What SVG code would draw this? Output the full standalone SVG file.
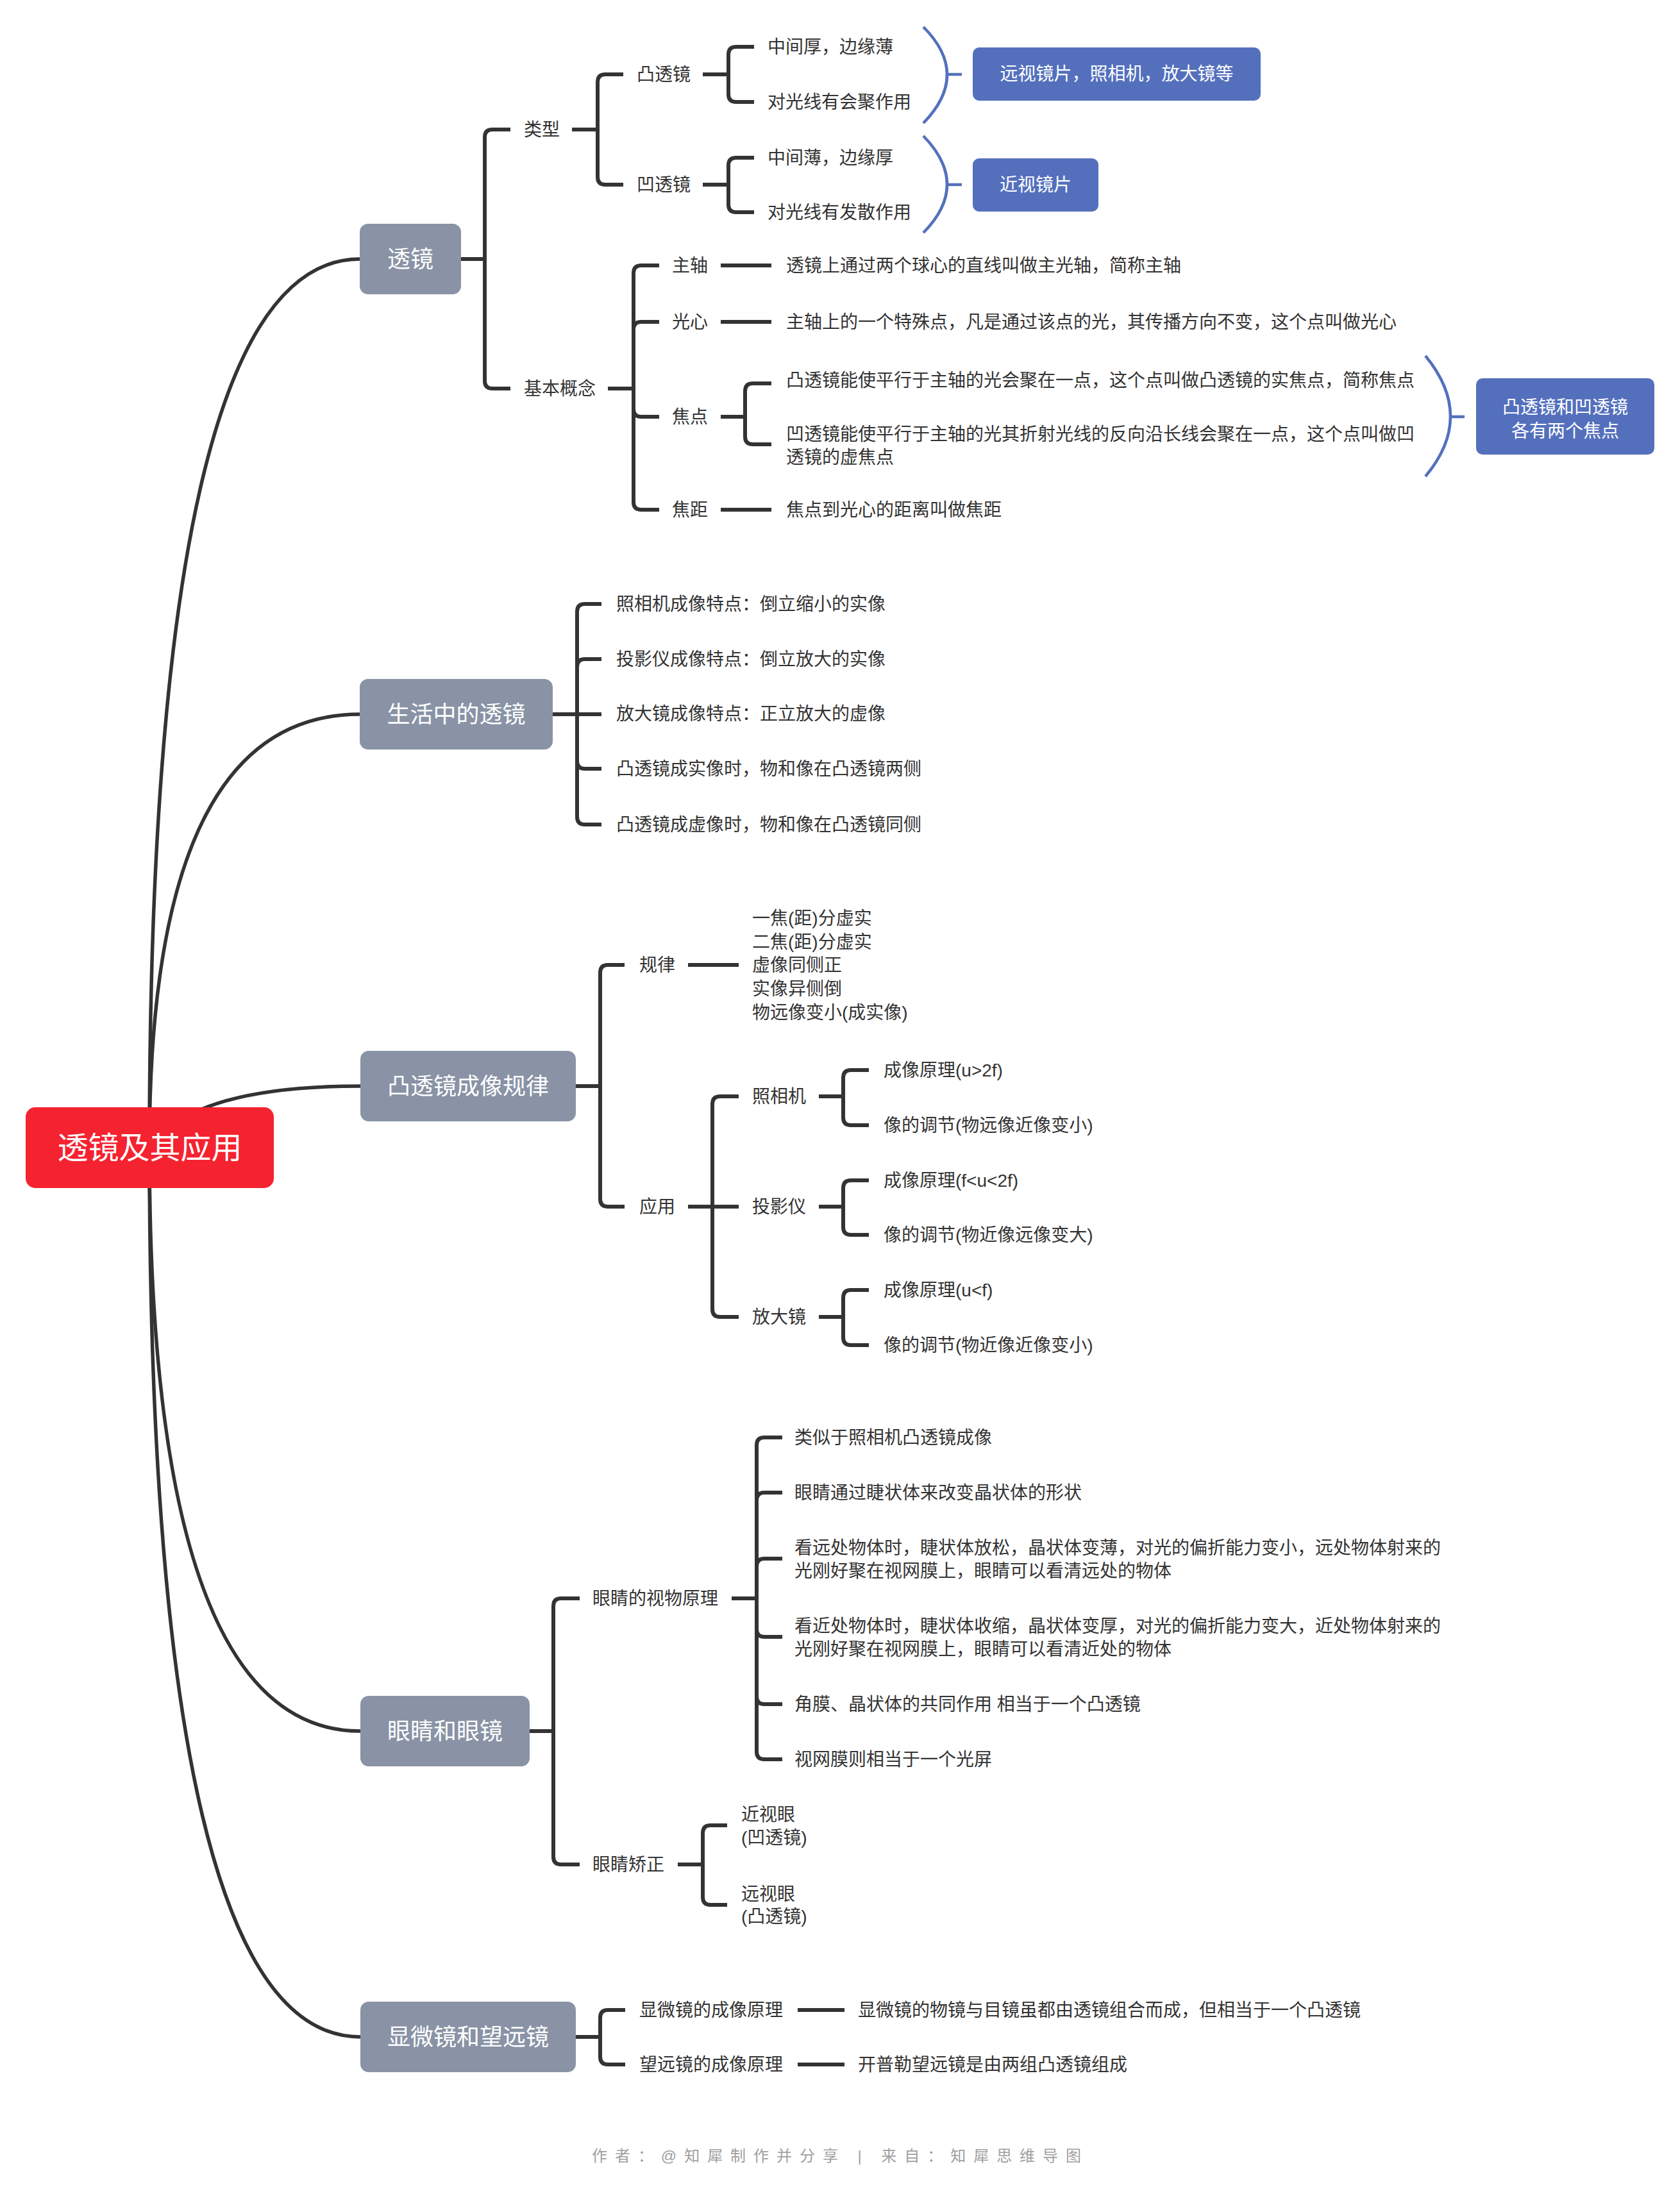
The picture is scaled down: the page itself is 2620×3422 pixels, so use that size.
<svg xmlns="http://www.w3.org/2000/svg" width="2620" height="3422" viewBox="0 0 2620 3422">
<style>
text{font-family:"Liberation Sans","Noto Sans CJK SC",sans-serif;dominant-baseline:central}
.c{fill:none;stroke:#333;stroke-width:6;stroke-linejoin:round}
.cv{fill:none;stroke:#333;stroke-width:5.5}
.bl{fill:none;stroke:#5470bd;stroke-width:4.5}
.t{font-size:28px;fill:#333}
.n1{fill:#8993a5}
.n1t{font-size:36px;fill:#fff;text-anchor:middle}
.bb{fill:#5470bd}
.bt{font-size:28px;fill:#fff;text-anchor:middle}
</style>
<rect width="2620" height="3422" fill="#fff"/>
<g id="connectors">
<path class="cv" d="M233 1790 Q233 404 561 404"/>
<path class="cv" d="M233 1790 Q233 1114 561 1114"/>
<path class="cv" d="M233 1790 Q300 1694 562 1694"/>
<path class="cv" d="M233 1790 Q233 2700 562 2700"/>
<path class="cv" d="M233 1790 Q233 3177 562 3177"/>
<path class="c" d="M719 404 H756 V214 Q756 202 768 202 H796"/>
<path class="c" d="M719 404 H756 V594 Q756 606 768 606 H796"/>
<path class="c" d="M892 202 H932 V128 Q932 116 944 116 H972"/>
<path class="c" d="M892 202 H932 V276 Q932 288 944 288 H972"/>
<path class="c" d="M1096 116 H1136 V85 Q1136 73 1148 73 H1176"/>
<path class="c" d="M1096 116 H1136 V147 Q1136 159 1148 159 H1176"/>
<path class="c" d="M1096 288 H1136 V258 Q1136 246 1148 246 H1176"/>
<path class="c" d="M1096 288 H1136 V319 Q1136 331 1148 331 H1176"/>
<path class="bl" d="M1440 42 Q1514 116 1440 192 M1477 116 H1500"/>
<path class="bl" d="M1440 212 Q1514 288 1440 363 M1477 288 H1500"/>
<path class="c" d="M948 606 H988 V426 Q988 414 1000 414 H1028"/>
<path class="c" d="M948 606 H988 V514 Q988 502 1000 502 H1028"/>
<path class="c" d="M948 606 H988 V638 Q988 650 1000 650 H1028"/>
<path class="c" d="M948 606 H988 V783 Q988 795 1000 795 H1028"/>
<path class="c" d="M1124 414 H1203 M1124 502 H1203 M1124 795 H1203"/>
<path class="c" d="M1124 650 H1162 V610 Q1162 598 1174 598 H1203"/>
<path class="c" d="M1124 650 H1162 V681 Q1162 693 1174 693 H1203"/>
<path class="bl" d="M2223 555 Q2301 650 2223 743 M2262 650 H2284"/>
<path class="c" d="M862 1114 H900 V954 Q900 942 912 942 H938"/>
<path class="c" d="M862 1114 H900 V1040 Q900 1028 912 1028 H938"/>
<path class="c" d="M862 1114 H938"/>
<path class="c" d="M862 1114 H900 V1187 Q900 1199 912 1199 H938"/>
<path class="c" d="M862 1114 H900 V1274 Q900 1286 912 1286 H938"/>
<path class="c" d="M898 1694 H936 V1517 Q936 1505 948 1505 H974"/>
<path class="c" d="M898 1694 H936 V1870 Q936 1882 948 1882 H974"/>
<path class="c" d="M1073 1505 H1152"/>
<path class="c" d="M1073 1882 H1111 V1722 Q1111 1710 1123 1710 H1152"/>
<path class="c" d="M1073 1882 H1152"/>
<path class="c" d="M1073 1882 H1111 V2042 Q1111 2054 1123 2054 H1152"/>
<path class="c" d="M1277 1710 H1315 V1681 Q1315 1669 1327 1669 H1355"/>
<path class="c" d="M1277 1710 H1315 V1743 Q1315 1755 1327 1755 H1355"/>
<path class="c" d="M1277 1882 H1315 V1853 Q1315 1841 1327 1841 H1355"/>
<path class="c" d="M1277 1882 H1315 V1914 Q1315 1926 1327 1926 H1355"/>
<path class="c" d="M1277 2054 H1315 V2024 Q1315 2012 1327 2012 H1355"/>
<path class="c" d="M1277 2054 H1315 V2086 Q1315 2098 1327 2098 H1355"/>
<path class="c" d="M826 2700 H863 V2505 Q863 2493 875 2493 H904"/>
<path class="c" d="M826 2700 H863 V2896 Q863 2908 875 2908 H904"/>
<path class="c" d="M1141 2493 H1180 V2254 Q1180 2242 1192 2242 H1220"/>
<path class="c" d="M1141 2493 H1180 V2340 Q1180 2328 1192 2328 H1220"/>
<path class="c" d="M1141 2493 H1180 V2443 Q1180 2431 1192 2431 H1220"/>
<path class="c" d="M1141 2493 H1180 V2541 Q1180 2553 1192 2553 H1220"/>
<path class="c" d="M1141 2493 H1180 V2646 Q1180 2658 1192 2658 H1220"/>
<path class="c" d="M1141 2493 H1180 V2732 Q1180 2744 1192 2744 H1220"/>
<path class="c" d="M1057 2908 H1096 V2859 Q1096 2847 1108 2847 H1134"/>
<path class="c" d="M1057 2908 H1096 V2959 Q1096 2971 1108 2971 H1134"/>
<path class="c" d="M898 3177 H936 V3147 Q936 3135 948 3135 H975"/>
<path class="c" d="M898 3177 H936 V3208 Q936 3220 948 3220 H975"/>
<path class="c" d="M1244 3135 H1317 M1244 3220 H1317"/>
</g>
<g id="root"><rect x="40" y="1727" width="387" height="126" rx="15" fill="#f52230"/><text x="233.5" y="1790" font-size="48" fill="#fff" text-anchor="middle">透镜及其应用</text></g>
<g id="n-toujing"><rect class="n1" x="561" y="349" width="158" height="110" rx="13"/><text class="n1t" x="640" y="404">透镜</text></g>
<g id="n-leixing"><text class="t" x="817" y="202">类型</text></g>
<g id="n-tu"><text class="t" x="993" y="116">凸透镜</text></g>
<g id="n-tu1"><text class="t" x="1197" y="73">中间厚，边缘薄</text></g>
<g id="n-tu2"><text class="t" x="1197" y="159">对光线有会聚作用</text></g>
<g id="n-ao"><text class="t" x="993" y="288">凹透镜</text></g>
<g id="n-ao1"><text class="t" x="1197" y="246">中间薄，边缘厚</text></g>
<g id="n-ao2"><text class="t" x="1197" y="331">对光线有发散作用</text></g>
<g id="s-tu"><rect class="bb" x="1517" y="74" width="449" height="83" rx="10"/><text class="bt" x="1741.5" y="115.5">远视镜片，照相机，放大镜等</text></g>
<g id="s-ao"><rect class="bb" x="1517" y="247" width="196" height="83" rx="10"/><text class="bt" x="1615" y="288.5">近视镜片</text></g>
<g id="n-jiben"><text class="t" x="817" y="606">基本概念</text></g>
<g id="n-zhuzhou"><text class="t" x="1048" y="414">主轴</text><text class="t" x="1226" y="414">透镜上通过两个球心的直线叫做主光轴，简称主轴</text></g>
<g id="n-guangxin"><text class="t" x="1048" y="502">光心</text><text class="t" x="1226" y="502">主轴上的一个特殊点，凡是通过该点的光，其传播方向不变，这个点叫做光心</text></g>
<g id="n-jiaodian"><text class="t" x="1048" y="650">焦点</text></g>
<g id="n-jd1"><text class="t" x="1226" y="593">凸透镜能使平行于主轴的光会聚在一点，这个点叫做凸透镜的实焦点，简称焦点</text></g>
<g id="n-jd2"><text class="t" x="1226" y="677">凹透镜能使平行于主轴的光其折射光线的反向沿长线会聚在一点，这个点叫做凹</text><text class="t" x="1226" y="713">透镜的虚焦点</text></g>
<g id="s-jd"><rect class="bb" x="2302" y="590" width="278" height="119" rx="10"/><text class="bt" x="2441" y="635">凸透镜和凹透镜</text><text class="bt" x="2441" y="672">各有两个焦点</text></g>
<g id="n-jiaoju"><text class="t" x="1048" y="795">焦距</text><text class="t" x="1226" y="795">焦点到光心的距离叫做焦距</text></g>
<g id="n-shenghuo"><rect class="n1" x="561" y="1059" width="301" height="110" rx="13"/><text class="n1t" x="711.5" y="1114">生活中的透镜</text></g>
<g id="n-sh1"><text class="t" x="961" y="942">照相机成像特点：倒立缩小的实像</text></g>
<g id="n-sh2"><text class="t" x="961" y="1028">投影仪成像特点：倒立放大的实像</text></g>
<g id="n-sh3"><text class="t" x="961" y="1113">放大镜成像特点：正立放大的虚像</text></g>
<g id="n-sh4"><text class="t" x="961" y="1199">凸透镜成实像时，物和像在凸透镜两侧</text></g>
<g id="n-sh5"><text class="t" x="961" y="1286">凸透镜成虚像时，物和像在凸透镜同侧</text></g>
<g id="n-chengxiang"><rect class="n1" x="562" y="1639" width="336" height="110" rx="13"/><text class="n1t" x="730" y="1694">凸透镜成像规律</text></g>
<g id="n-guilv"><text class="t" x="997" y="1505">规律</text></g>
<g id="n-guilv-t"><text class="t" x="1173" y="1432">一焦(距)分虚实</text><text class="t" x="1173" y="1469">二焦(距)分虚实</text><text class="t" x="1173" y="1505">虚像同侧正</text><text class="t" x="1173" y="1542">实像异侧倒</text><text class="t" x="1173" y="1579">物远像变小(成实像)</text></g>
<g id="n-yingyong"><text class="t" x="997" y="1882">应用</text></g>
<g id="n-zxj"><text class="t" x="1173" y="1710">照相机</text><text class="t" x="1378" y="1669">成像原理(u&gt;2f)</text><text class="t" x="1378" y="1755">像的调节(物远像近像变小)</text></g>
<g id="n-tyy"><text class="t" x="1173" y="1882">投影仪</text><text class="t" x="1378" y="1841">成像原理(f&lt;u&lt;2f)</text><text class="t" x="1378" y="1926">像的调节(物近像远像变大)</text></g>
<g id="n-fdj"><text class="t" x="1173" y="2054">放大镜</text><text class="t" x="1378" y="2012">成像原理(u&lt;f)</text><text class="t" x="1378" y="2098">像的调节(物近像近像变小)</text></g>
<g id="n-yanjing"><rect class="n1" x="562" y="2645" width="264" height="110" rx="13"/><text class="n1t" x="694" y="2700">眼睛和眼镜</text></g>
<g id="n-shiwu"><text class="t" x="924" y="2493">眼睛的视物原理</text></g>
<g id="n-sw1"><text class="t" x="1239" y="2242">类似于照相机凸透镜成像</text></g>
<g id="n-sw2"><text class="t" x="1239" y="2328">眼睛通过睫状体来改变晶状体的形状</text></g>
<g id="n-sw3"><text class="t" x="1239" y="2414">看远处物体时，睫状体放松，晶状体变薄，对光的偏折能力变小，远处物体射来的</text><text class="t" x="1239" y="2450">光刚好聚在视网膜上，眼睛可以看清远处的物体</text></g>
<g id="n-sw4"><text class="t" x="1239" y="2536">看近处物体时，睫状体收缩，晶状体变厚，对光的偏折能力变大，近处物体射来的</text><text class="t" x="1239" y="2572">光刚好聚在视网膜上，眼睛可以看清近处的物体</text></g>
<g id="n-sw5"><text class="t" x="1239" y="2658">角膜、晶状体的共同作用 相当于一个凸透镜</text></g>
<g id="n-sw6"><text class="t" x="1239" y="2744">视网膜则相当于一个光屏</text></g>
<g id="n-jiaozheng"><text class="t" x="924" y="2908">眼睛矫正</text></g>
<g id="n-jz1"><text class="t" x="1156" y="2830">近视眼</text><text class="t" x="1156" y="2866">(凹透镜)</text></g>
<g id="n-jz2"><text class="t" x="1156" y="2954">远视眼</text><text class="t" x="1156" y="2989">(凸透镜)</text></g>
<g id="n-xianwei"><rect class="n1" x="562" y="3122" width="336" height="110" rx="13"/><text class="n1t" x="730" y="3177">显微镜和望远镜</text></g>
<g id="n-xw1"><text class="t" x="997" y="3135">显微镜的成像原理</text><text class="t" x="1338" y="3135">显微镜的物镜与目镜虽都由透镜组合而成，但相当于一个凸透镜</text></g>
<g id="n-xw2"><text class="t" x="997" y="3220">望远镜的成像原理</text><text class="t" x="1338" y="3220">开普勒望远镜是由两组凸透镜组成</text></g>
<g id="footer"><text x="923" y="3362" font-size="24" fill="#a0a0a0" textLength="763" lengthAdjust="spacing">作者：@知犀制作并分享 | 来自：知犀思维导图</text></g>
</svg>
